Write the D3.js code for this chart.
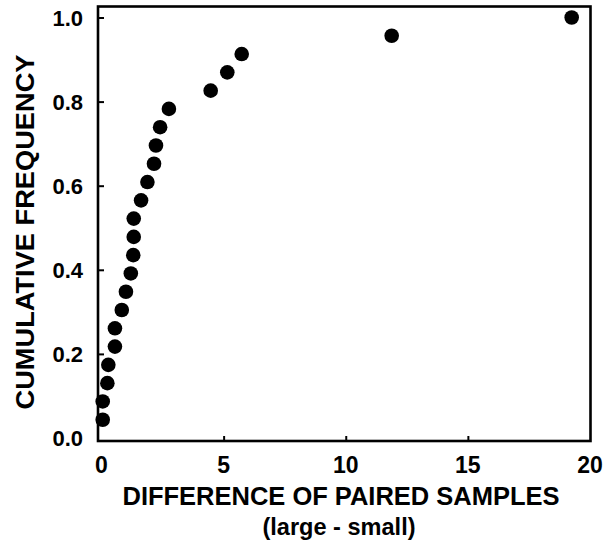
<!DOCTYPE html>
<html><head><meta charset="utf-8">
<script src="https://cdn.jsdelivr.net/npm/d3@7"></script>
<style>html,body{margin:0;padding:0;background:#fff;}svg{display:block;}</style>
</head><body>
<svg id="c" width="613" height="549"></svg>
<script>
// Data: difference of paired samples (sorted) and cumulative frequency k/23
const diffs = [0.05, 0.05, 0.24, 0.28, 0.55, 0.55, 0.83, 1.00, 1.20, 1.30, 1.32, 1.32, 1.62, 1.88, 2.15, 2.23, 2.40, 2.76, 4.47, 5.15, 5.74, 11.88, 19.25];
const cumFreq = diffs.map((d, i) => (i + 1) / diffs.length);
const xTicks = [0, 5, 10, 15, 20];
const yTicks = [0.0, 0.2, 0.4, 0.6, 0.8, 1.0];
const xTitle = "DIFFERENCE OF PAIRED SAMPLES";
const xSub = "(large - small)";
const yTitle = "CUMULATIVE FREQUENCY";

(function () {
const svg = d3.select("#c");
const fL = 98, fR = 590.5, fT = 6.5, fB = 441;
const x = d3.scaleLinear().domain([0, 20]).range([101.5, 590]);
const y = d3.scaleLinear().domain([0, 1]).range([438, 17.5]);
const font = "'Liberation Sans', Arial, sans-serif";

// frame
svg.append("rect").attr("x", fL).attr("y", fT)
  .attr("width", fR - fL).attr("height", fB - fT)
  .attr("fill", "none").attr("stroke", "#000").attr("stroke-width", 2.6);

// axes (ticks inward)
const xAxis = d3.axisBottom(x).tickValues(xTicks.slice(1, 4)).tickSize(-5).tickFormat("");
svg.append("g").attr("transform", `translate(0,${fB})`).call(xAxis)
  .call(g => g.select(".domain").remove())
  .call(g => g.selectAll("line").attr("stroke", "#000").attr("stroke-width", 2));
const yAxis = d3.axisLeft(y).tickValues(yTicks.slice(1)).tickSize(-6).tickFormat("");
svg.append("g").attr("transform", `translate(${fL},0)`).call(yAxis)
  .call(g => g.select(".domain").remove())
  .call(g => g.selectAll("line").attr("stroke", "#000").attr("stroke-width", 2));

// tick labels
svg.append("g").selectAll("text").data(xTicks).join("text")
  .attr("x", d => x(d)).attr("y", 473)
  .attr("text-anchor", "middle")
  .attr("font-family", font).attr("font-weight", "bold").attr("font-size", 23)
  .text(d => d);
svg.append("g").selectAll("text").data(yTicks).join("text")
  .attr("x", 83).attr("y", d => y(d) + 8)
  .attr("text-anchor", "end")
  .attr("font-family", font).attr("font-weight", "bold").attr("font-size", 22)
  .text(d => d.toFixed(1));

// axis titles
svg.append("text").attr("x", 341).attr("y", 505)
  .attr("text-anchor", "middle")
  .attr("textLength", 437).attr("lengthAdjust", "spacingAndGlyphs")
  .attr("font-family", font).attr("font-weight", "bold").attr("font-size", 26)
  .text(xTitle);
svg.append("text").attr("x", 339).attr("y", 535)
  .attr("text-anchor", "middle")
  .attr("textLength", 153).attr("lengthAdjust", "spacingAndGlyphs")
  .attr("font-family", font).attr("font-weight", "bold").attr("font-size", 24)
  .text(xSub);
svg.append("text")
  .attr("transform", "translate(34,232) rotate(-90)")
  .attr("text-anchor", "middle")
  .attr("textLength", 355).attr("lengthAdjust", "spacingAndGlyphs")
  .attr("font-family", font).attr("font-weight", "bold").attr("font-size", 26)
  .text(yTitle);

// points
svg.append("g").selectAll("circle").data(diffs).join("circle")
  .attr("cx", d => x(d)).attr("cy", (d, i) => y(cumFreq[i]))
  .attr("r", 7.3).attr("fill", "#000");
})();
</script>
</body></html>
